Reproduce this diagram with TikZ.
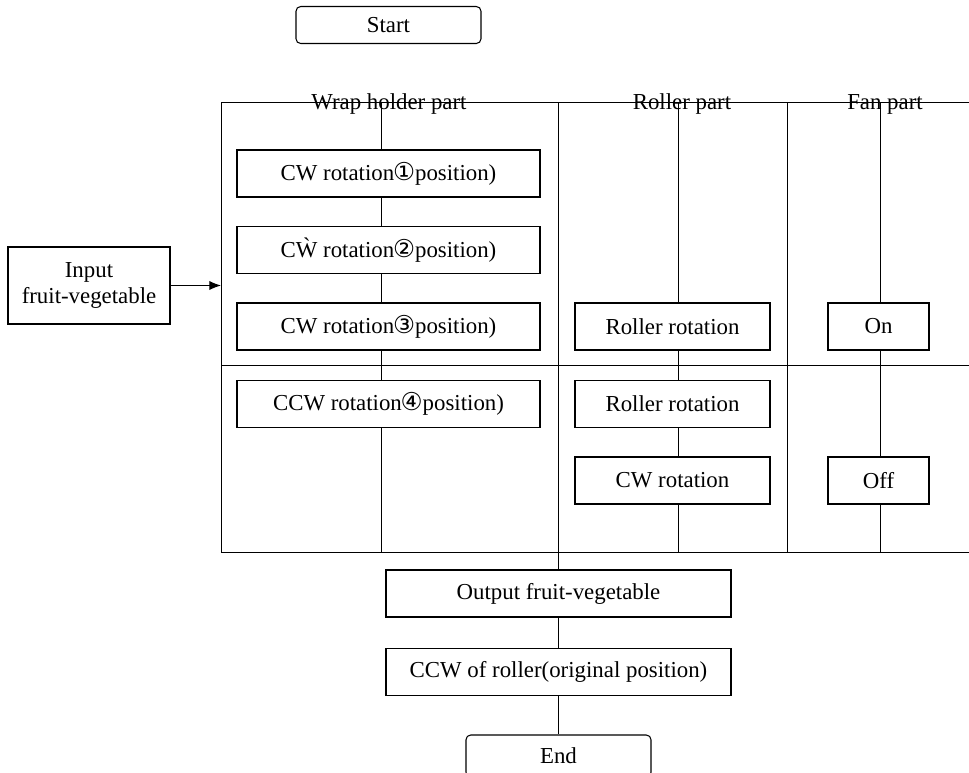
\documentclass[tikz,border=0pt]{standalone}
\usepackage{fontspec}
\setmainfont{Liberation Serif}
\newfontfamily\circfont{DejaVu Sans}
\usetikzlibrary{arrows, arrows.meta}

\newcommand{\circnum}[1]{{\circfont\fontsize{21}{21}\selectfont #1}}

\begin{document}
\begin{tikzpicture}[x=0.03cm, y=-0.03cm, line width=0.8pt,
		every node/.style={inner sep=0pt, font=\fontsize{19.5}{23}\selectfont},
		box/.style={draw, fill=white, line width=0.9pt, minimum height=14.1mm},
		wrapbox/.style={box, minimum width=90.9mm},
		rollerbox/.style={box, minimum width=58.5mm},
		fanbox/.style={box, minimum width=30.3mm},
		wideBox/.style={box, minimum width=103.5mm},
		endbox/.style={draw, fill=white, rounded corners=4pt, line width=0.9pt, minimum width=55.5mm}]

\useasboundingbox (0,0) rectangle (969,772);

% frame of the three parts
\draw (969,102) -- (221,102) -- (221,552) -- (969,552);
\draw (221,365) -- (969,365);
\draw (558,102) -- (558,552);
\draw (787,102) -- (787,552);

\node[anchor=base] (wraphead) at (389,109) {Wrap holder part};
\node[anchor=base] (rollhead) at (682,109) {Roller part};
\node[anchor=base] (fanhead) at (885,109) {Fan part};

% column lines
\coordinate (wtop) at (381,102);
\coordinate (wbot) at (381,552);
\coordinate (rtop) at (678,102);
\coordinate (rbot) at (678,552);
\coordinate (ftop) at (880,102);
\coordinate (fbot) at (880,552);
\draw (wtop) -- (wbot);
\draw (rtop) -- (rbot);
\draw (ftop) -- (fbot);

\node[endbox, minimum height=11.1mm] (start) at (388.5,25) {Start};

\node[wrapbox] (cw1) at (388.5,173.5) {CW rotation\kern-1pt\circnum{①}position)};
\node[wrapbox] (cw2) at (388.5,250) {C\`W rotation\kern-1pt\circnum{②}position)};
\node[wrapbox] (cw3) at (388.5,326.5) {CW rotation\kern-1pt\circnum{③}position)};
\node[wrapbox] (ccw4) at (388.5,404) {CCW rotation\kern-1pt\circnum{④}position)};

\node[rollerbox] (roll1) at (672.5,326.5) {Roller rotation};
\node[rollerbox] (roll2) at (672.5,404) {Roller rotation};
\node[rollerbox] (rollcw) at (672.5,480.5) {CW rotation};

\node[fanbox] (fanon) at (878.5,326.5) {On};
\node[fanbox] (fanoff) at (878.5,480.5) {Off};

\node[box, minimum width=48.6mm, minimum height=23.1mm, align=center] (input) at (89,285.5) {Input\\fruit-vegetable};
\coordinate (fleft) at (221,286);
\draw[-{Latex[length=10pt,width=8pt]}, line width=0.9pt] (input.east) -- (input.east -| fleft);

\node[wideBox] (output) at (558.5,593.5) {Output fruit-vegetable};
\node[wideBox] (ccwroll) at (558.5,672) {CCW of roller(original position)};
\node[endbox, minimum height=12.6mm] (end) at (558.5,756) {End};

\coordinate (obot) at (558,552);
\draw (obot) -- (obot |- output.north);
\draw (output) -- (ccwroll);
\draw (ccwroll) -- (end);

\end{tikzpicture}
\end{document}
